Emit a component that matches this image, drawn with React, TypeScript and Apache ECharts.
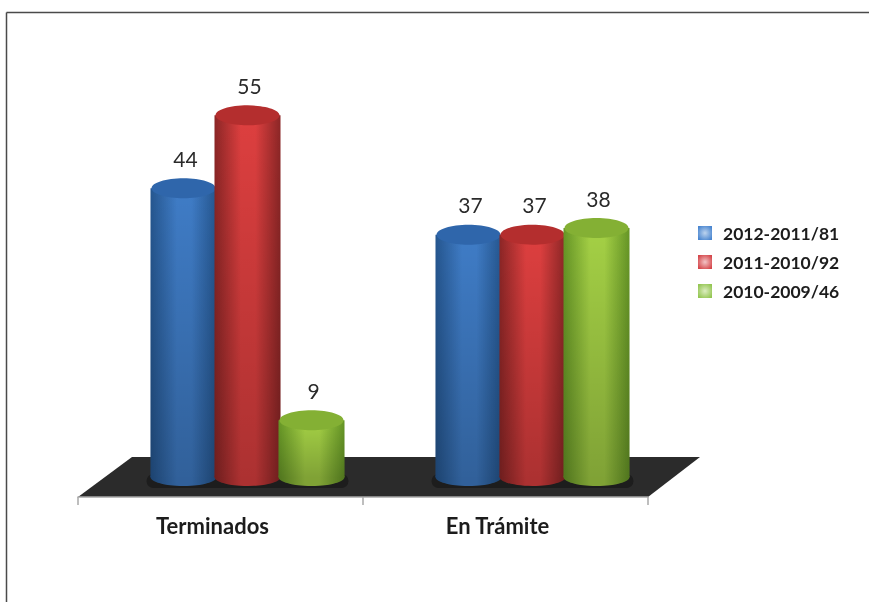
import React, { useEffect, useRef } from "react";
import * as echarts from "echarts";

const categories = ["Terminados", "En Trámite"];
const seriesNames = ["2012-2011/81", "2011-2010/92", "2010-2009/46"];
const values2012 = [44, 37];
const values2011 = [55, 37];
const values2010 = [9, 38];
const allValues = [values2012, values2011, values2010];

const palettes = [
  { edge: "#25568f", mid: "#3f7cc6", top: "#2f66ab", legend: "#4a86d0", glow: "#bcd3ee" },
  { edge: "#8c2626", mid: "#dd3f3f", top: "#b42e2e", legend: "#d5474b", glow: "#f2c4c6" },
  { edge: "#669626", mid: "#a4d045", top: "#84b034", legend: "#94c653", glow: "#dcedc0" },
];

const FONT = "Lato, 'Open Sans', sans-serif";
const DEPTH = 17;
const BASE_LIFT = 3;
const RX = 33;
const RY_TOP = 10;
const RY_BOTTOM = 9;
const SPACING = 64;
const SHIFT = 27;

const body = (p: any) => ({
  type: "linear", x: 0, y: 0, x2: 1, y2: 0,
  colorStops: [
    { offset: 0, color: p.edge },
    { offset: 0.4, color: p.mid },
    { offset: 0.62, color: p.mid },
    { offset: 1, color: p.edge },
  ],
});
const fade = {
  type: "linear", x: 0, y: 0, x2: 0, y2: 1,
  colorStops: [
    { offset: 0, color: "rgba(0,0,0,0)" },
    { offset: 1, color: "rgba(0,0,0,0.22)" },
  ],
};

function cylinder(idx: number) {
  return (_: any, api: any) => {
    const cat = api.value(0);
    const val = api.value(1);
    const p = palettes[idx];
    const [cx0] = api.coord([cat, 0]);
    const cx = cx0 + SHIFT + (idx - 1) * SPACING;
    const top = api.coord([cat, val])[1] - DEPTH;
    const bottom = api.coord([cat, 0])[1] - DEPTH - BASE_LIFT;
    const h = bottom - top;
    return {
      type: "group",
      children: [
        { type: "ellipse", shape: { cx, cy: bottom, rx: RX, ry: RY_BOTTOM }, style: { fill: body(p) } },
        { type: "ellipse", shape: { cx, cy: bottom, rx: RX, ry: RY_BOTTOM }, style: { fill: "rgba(0,0,0,0.22)" } },
        { type: "rect", shape: { x: cx - RX, y: top, width: RX * 2, height: h }, style: { fill: body(p) } },
        { type: "rect", shape: { x: cx - RX, y: top, width: RX * 2, height: h }, style: { fill: fade } },
        { type: "ellipse", shape: { cx, cy: top, rx: RX - 1, ry: RY_TOP }, style: { fill: p.top } },
        {
          type: "text",
          x: cx + 2,
          y: top - 30,
          style: { text: String(val), fill: "#2a2a2a", font: `400 21px ${FONT}`, textAlign: "center", textVerticalAlign: "middle" },
        },
      ],
    };
  };
}

function halo(_: any, api: any) {
  const cat = api.value(0);
  const [cx0, y0] = api.coord([cat, 0]);
  return {
    type: "rect",
    shape: { x: cx0 + SHIFT - SPACING - RX - 4, y: y0 - DEPTH - 6, width: SPACING * 2 + RX * 2 + 8, height: 14, r: 7 },
    style: { fill: "#1d1d1d" },
  };
}

export default function App() {
  const ref = useRef<HTMLDivElement>(null);
  useEffect(() => {
    const chart = echarts.init(ref.current!, undefined, { renderer: "svg" });
    chart.setOption({
      animation: false,
      backgroundColor: "#ffffff",
      grid: { left: 78, top: 99.2, width: 570, height: 397.8, containLabel: false },
      xAxis: {
        type: "category",
        data: categories,
        axisLine: { lineStyle: { color: "#a8a8a8", width: 1.5 } },
        axisTick: { show: true, length: 8, lineStyle: { color: "#a8a8a8", width: 1.5 } },
        axisLabel: {
          margin: 17,
          color: "#1c1c1c",
          fontFamily: FONT,
          fontWeight: 700,
          fontSize: 22,
          padding: [0, 16, 0, 0],
        },
      },
      yAxis: { type: "value", min: 0, max: 60, show: false },
      legend: {
        orient: "vertical",
        left: 693,
        top: 218,
        icon: "rect",
        itemWidth: 14,
        itemHeight: 14,
        itemGap: 9,
        data: seriesNames,
        selectedMode: false,
        textStyle: { color: "#1c1c1c", fontFamily: FONT, fontWeight: 700, fontSize: 17.5, padding: [0, 0, 0, 6], lineHeight: 20 },
      },
      graphic: [
        { type: "line", silent: true, shape: { x1: 6.5, y1: 12.5, x2: 869, y2: 12.5 }, style: { stroke: "#4a4a4a", lineWidth: 1.5 } },
        { type: "line", silent: true, shape: { x1: 6.5, y1: 12.5, x2: 6.5, y2: 602 }, style: { stroke: "#4a4a4a", lineWidth: 1.5 } },
        { type: "polygon", silent: true, z: -1, shape: { points: [[78, 497], [648, 497], [700, 457], [132, 457]] }, style: { fill: "#2b2b2b" } },
      ],
      series: [
        {
          type: "custom",
          name: "halo",
          renderItem: halo,
          data: categories.map((_, i) => [i, 0]),
          z: 1,
          silent: true,
          clip: false,
        },
        ...seriesNames.map((name, idx) => ({
          type: "custom",
          name,
          renderItem: cylinder(idx),
          encode: { x: 0, y: 1 },
          data: allValues[idx].map((v, i) => [i, v]),
          z: 2 + idx,
          silent: true,
          clip: false,
          itemStyle: {
            color: {
              type: "radial", x: 0.5, y: 0.5, r: 0.6,
              colorStops: [
                { offset: 0, color: palettes[idx].glow },
                { offset: 1, color: palettes[idx].legend },
              ],
            },
          },
        })),
      ],
    });
    return () => chart.dispose();
  }, []);
  return (
    <div
      ref={ref}
      style={{ position: "absolute", left: 0, top: 0, width: 869, height: 602, filter: "blur(0.5px)" }}
    />
  );
}
